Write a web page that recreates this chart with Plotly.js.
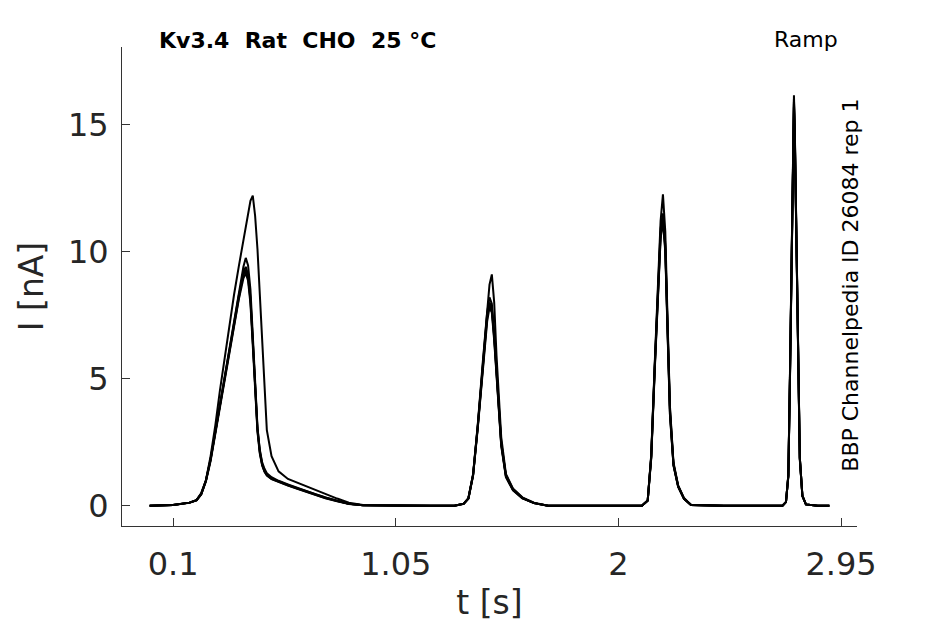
<!DOCTYPE html>
<html>
<head>
<meta charset="utf-8">
<title>Kv3.4 Rat CHO 25 °C - Ramp</title>
<script src="https://cdn.plot.ly/plotly-3.0.1.min.js"></script>
<style>
    html, body { margin: 0; padding: 0; background: #fff; }
    #chart { width: 945px; height: 624px; }
</style>
</head>
<body>
<div id="chart"></div>
<script>
/* ── Data: shared time grid (s) and one current trace (nA) per sweep ── */
const tSec = [
    0, 0.10, 0.17,
    0.20, 0.22, 0.24, 0.26, 0.28, 0.30, 0.32, 0.34, 0.36, 0.38, 0.40, 0.41, 0.42, 0.43, 0.44, 0.45,
    0.46, 0.47, 0.48, 0.49, 0.50, 0.52, 0.55, 0.59, 0.63, 0.67, 0.71, 0.75, 0.80, 0.85, 0.91,
    1.05, 1.20, 1.30,
    1.34, 1.36, 1.38, 1.40, 1.42, 1.44, 1.45, 1.46, 1.47, 1.48, 1.49, 1.50, 1.52, 1.55, 1.59, 1.64, 1.70,
    1.85, 2.00, 2.10,
    2.125, 2.14, 2.155, 2.17, 2.18, 2.19, 2.20, 2.21, 2.22, 2.235, 2.255, 2.28, 2.31,
    2.45, 2.60, 2.70,
    2.715, 2.725, 2.732, 2.739, 2.745, 2.749, 2.753, 2.759, 2.766, 2.774, 2.785, 2.80,
    2.85, 2.90
];

const sweepA = [
    0, 0.03, 0.12,
    0.22, 0.5, 1.0, 1.95, 3.15, 4.55, 5.85, 7.1, 8.3, 9.4, 10.5, 10.95, 11.5, 12.0, 12.2, 11.4,
    10.1, 8.2, 6.3, 4.4, 2.97, 1.95, 1.35, 1.05, 0.9, 0.75, 0.6, 0.45, 0.28, 0.12, 0.03,
    0, 0, 0,
    0.08, 0.3, 1.25, 3.2, 5.5, 7.7, 8.7, 9.1, 8.0, 5.9, 4.1, 2.7, 1.25, 0.68, 0.33, 0.12, 0,
    0, 0, 0,
    0.2, 2.0, 5.6, 9.1, 11.2, 12.25, 10.8, 7.2, 3.9, 1.7, 0.8, 0.3, 0.03,
    0, 0, 0,
    0.15, 1.2, 5.2, 10.2, 14.3, 16.15, 14.6, 11.3, 6.0, 1.9, 0.4, 0.05,
    0, 0
];

const sweepB = [
    0, 0.03, 0.12,
    0.22, 0.46, 0.98, 1.82, 2.9, 4.05, 5.15, 6.2, 7.3, 8.4, 9.4, 9.75, 9.45, 8.5, 6.8, 4.8,
    3.1, 2.15, 1.65, 1.38, 1.22, 1.07, 0.95, 0.82, 0.69, 0.56, 0.44, 0.32, 0.19, 0.08, 0.02,
    0, 0, 0,
    0.08, 0.29, 1.22, 3.15, 5.4, 7.6, 8.2, 7.95, 6.8, 5.3, 3.8, 2.5, 1.2, 0.65, 0.31, 0.1, 0,
    0, 0, 0,
    0.2, 1.95, 5.5, 8.9, 10.9, 11.5, 10.3, 7.0, 3.8, 1.65, 0.78, 0.28, 0.03,
    0, 0, 0,
    0.15, 1.2, 5.1, 10.1, 14.2, 16.0, 14.5, 11.2, 5.9, 1.9, 0.4, 0.05,
    0, 0
];

const sweepC = [
    0, 0.03, 0.12,
    0.22, 0.45, 0.98, 1.8, 2.85, 4.0, 5.05, 6.1, 7.15, 8.25, 9.1, 9.27, 8.95, 8.1, 6.5, 4.6,
    2.97, 2.1, 1.6, 1.35, 1.2, 1.05, 0.93, 0.8, 0.67, 0.54, 0.42, 0.3, 0.18, 0.08, 0.02,
    0, 0, 0,
    0.07, 0.28, 1.2, 3.1, 5.3, 7.4, 7.95, 7.7, 6.6, 5.1, 3.7, 2.4, 1.15, 0.62, 0.3, 0.1, 0,
    0, 0, 0,
    0.2, 1.9, 5.4, 8.7, 10.6, 11.3, 10.1, 6.8, 3.6, 1.6, 0.75, 0.27, 0.03,
    0, 0, 0,
    0.14, 1.15, 5.0, 10.0, 14.0, 15.8, 14.3, 11.0, 5.8, 1.85, 0.38, 0.05,
    0, 0
];

const sweepD = [
    0, 0.03, 0.11,
    0.21, 0.44, 0.95, 1.76, 2.8, 3.92, 4.98, 6.02, 7.05, 8.1, 8.95, 9.15, 8.85, 7.95, 6.3, 4.45,
    2.9, 2.05, 1.58, 1.33, 1.18, 1.04, 0.92, 0.79, 0.66, 0.53, 0.41, 0.29, 0.17, 0.07, 0.02,
    0, 0, 0,
    0.07, 0.27, 1.17, 3.05, 5.2, 7.25, 7.8, 7.6, 6.5, 5.0, 3.6, 2.35, 1.12, 0.6, 0.29, 0.1, 0,
    0, 0, 0,
    0.19, 1.85, 5.3, 8.6, 10.5, 11.2, 10.0, 6.7, 3.55, 1.58, 0.74, 0.27, 0.03,
    0, 0, 0,
    0.14, 1.15, 5.0, 9.9, 13.9, 15.7, 14.2, 10.9, 5.7, 1.8, 0.37, 0.05,
    0, 0
];

const sweepE = [
    0, 0.03, 0.12,
    0.22, 0.46, 1.0, 1.84, 2.9, 4.02, 5.1, 6.15, 7.2, 8.3, 9.2, 9.4, 9.1, 8.2, 6.6, 4.7,
    3.05, 2.2, 1.7, 1.45, 1.28, 1.12, 0.98, 0.84, 0.7, 0.57, 0.44, 0.32, 0.19, 0.08, 0.02,
    0, 0, 0,
    0.08, 0.29, 1.21, 3.12, 5.35, 7.5, 8.0, 7.8, 6.7, 5.2, 3.75, 2.45, 1.18, 0.64, 0.31, 0.1, 0,
    0, 0, 0,
    0.2, 1.92, 5.45, 8.8, 10.7, 11.4, 10.2, 6.9, 3.7, 1.62, 0.76, 0.27, 0.03,
    0, 0, 0,
    0.15, 1.18, 5.1, 10.0, 14.1, 15.9, 14.4, 11.1, 5.85, 1.88, 0.39, 0.05,
    0, 0
];

const SWEEPS = [sweepA, sweepB, sweepC, sweepD, sweepE];

const X_TICKS  = [0.1, 1.05, 2, 2.95];
const X_LABELS = ['0.1', '1.05', '2', '2.95'];
const Y_TICKS  = [0, 5, 10, 15];

const TITLE_TEXT = 'Kv3.4\u00a0\u00a0Rat\u00a0\u00a0CHO\u00a0\u00a025\u00a0°C';
const PROTOCOL   = 'Ramp';
const SOURCE     = 'BBP Channelpedia ID 26084 rep 1';

/* ── Styling ── */
const FONT     = 'DejaVu Sans, sans-serif';
const INK      = '#262626';
const AXIS_COL = '#333333';

const traces = SWEEPS.map(ys => ({
    x: tSec,
    y: ys,
    type: 'scatter',
    mode: 'lines',
    line: { color: '#000000', width: 2 },
    hoverinfo: 'skip'
}));

const axisBase = {
    showgrid: false,
    zeroline: false,
    showline: true,
    linecolor: AXIS_COL,
    linewidth: 1,
    ticks: 'inside',
    ticklen: 8,
    tickwidth: 1,
    tickcolor: AXIS_COL,
    tickfont: { family: FONT, size: 32, color: INK },
    mirror: false
};

const layout = {
    width: 945,
    height: 624,
    paper_bgcolor: '#ffffff',
    plot_bgcolor: '#ffffff',
    showlegend: false,
    margin: { l: 122, r: 88, t: 47, b: 98 },
    xaxis: {
        ...axisBase,
        range: [-0.118, 3.018],
        tickmode: 'array',
        tickvals: X_TICKS,
        ticktext: X_LABELS,
        ticklabelstandoff: 10,
        title: { text: 't [s]', font: { family: FONT, size: 33, color: INK }, standoff: 8 }
    },
    yaxis: {
        ...axisBase,
        range: [-0.8, 18.05],
        tickmode: 'array',
        tickvals: Y_TICKS,
        ticklabelstandoff: 6,
        title: { text: 'I [nA]', font: { family: FONT, size: 33, color: INK }, standoff: 14 }
    },
    annotations: [
        {
            text: '<b>' + TITLE_TEXT + '</b>',
            xref: 'paper', yref: 'paper',
            x: 0.047, y: 1.0146,
            xanchor: 'left', yanchor: 'middle',
            showarrow: false,
            font: { family: FONT, size: 22, color: '#000000' }
        },
        {
            text: PROTOCOL,
            xref: 'paper', yref: 'paper',
            x: 0.931, y: 1.0167,
            xanchor: 'center', yanchor: 'middle',
            showarrow: false,
            font: { family: FONT, size: 22, color: '#000000' }
        },
        {
            text: SOURCE,
            xref: 'paper', yref: 'paper',
            x: 0.990, y: 0.503,
            xanchor: 'center', yanchor: 'middle',
            textangle: -90,
            showarrow: false,
            font: { family: FONT, size: 22, color: '#000000' }
        }
    ]
};

Plotly.newPlot('chart', traces, layout, { displayModeBar: false, staticPlot: true });
</script>
</body>
</html>
